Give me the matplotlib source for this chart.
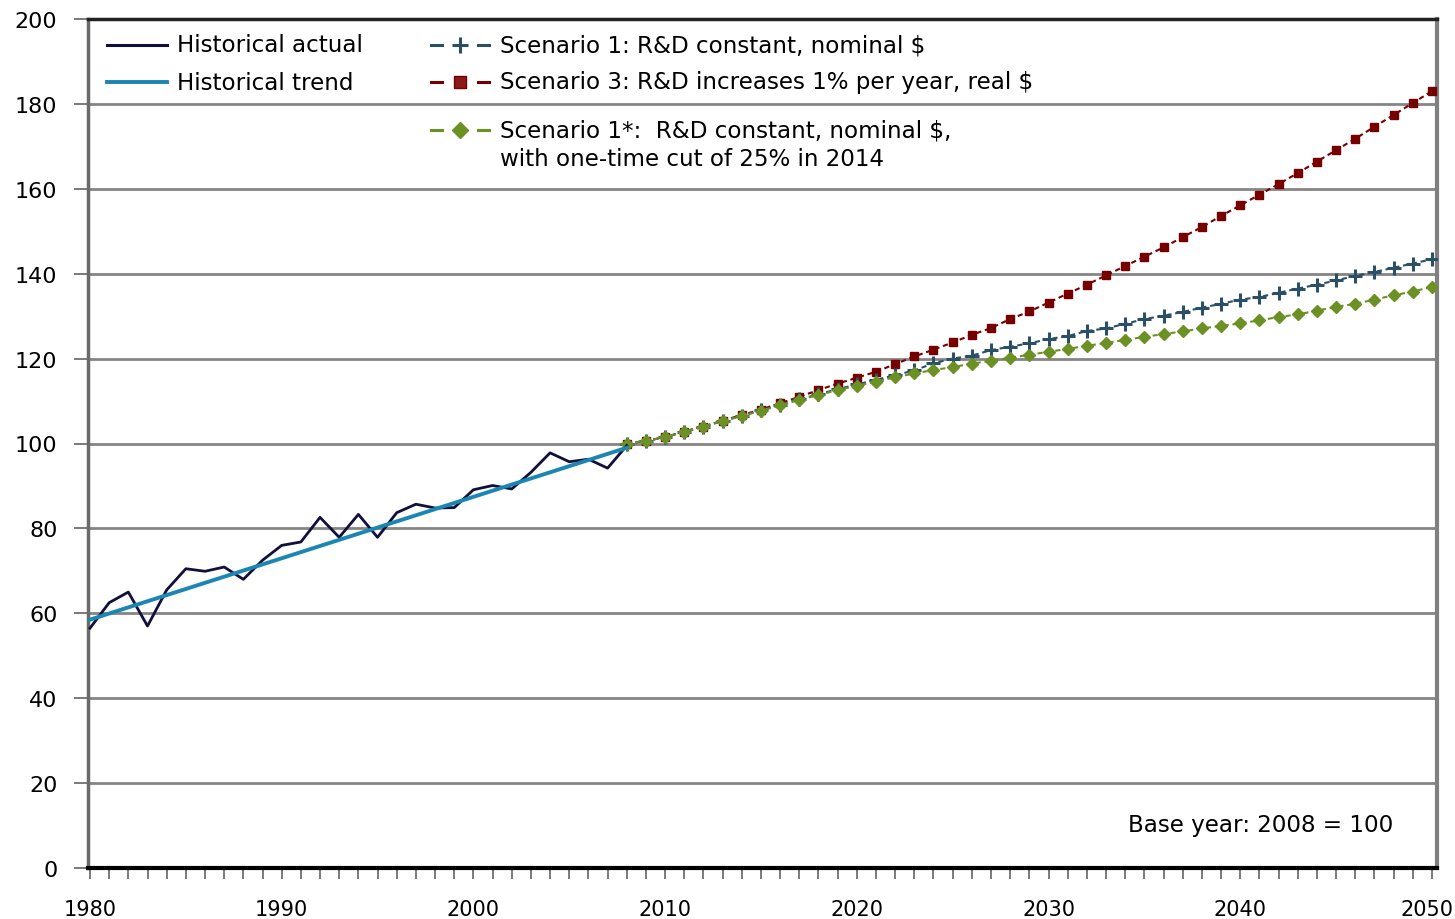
import matplotlib
matplotlib.use('Agg')
import matplotlib.pyplot as plt
from matplotlib.lines import Line2D
from matplotlib.ticker import MultipleLocator
from matplotlib.transforms import ScaledTranslation

# ---------------- data ----------------
hist_years = list(range(1980, 2009))
hist_actual = [56.5, 62.5, 65.0, 57.0, 65.5, 70.5, 69.9, 70.9, 68.0, 72.5,
               76.0, 76.8, 82.6, 77.9, 83.3, 77.9, 83.7, 85.7, 84.8, 84.9,
               89.1, 90.1, 89.3, 93.2, 97.8, 95.7, 96.3, 94.2, 99.5]

trend_years = [1980, 2008]
trend_values = [58.5, 99.0]

proj_years = list(range(2008, 2051))
scenario1 = [100.0, 100.6, 101.5, 102.8, 104.0, 105.3, 106.5, 107.8, 109.1, 110.4,
             111.6, 112.8, 113.9, 115.0, 116.1, 117.2, 118.9, 120.0, 120.7, 122.0,
             122.8, 123.6, 124.6, 125.3, 126.5, 127.1, 128.2, 129.3, 130.1, 131.0,
             132.0, 132.9, 133.9, 134.5, 135.5, 136.5, 137.4, 138.4, 139.5, 140.4,
             141.4, 142.4, 143.4]
scenario3 = [100.0, 100.6, 101.5, 102.8, 104.0, 105.4, 106.7, 108.0, 109.5, 111.0,
             112.6, 114.1, 115.5, 116.9, 118.7, 120.5, 122.1, 123.8, 125.6, 127.2,
             129.3, 131.1, 133.2, 135.3, 137.4, 139.6, 141.8, 144.0, 146.2, 148.6,
             151.0, 153.6, 156.1, 158.6, 161.1, 163.7, 166.4, 169.1, 171.8, 174.6,
             177.4, 180.2, 183.0]
scenario1_star = [100.0, 100.6, 101.5, 102.8, 104.0, 105.3, 106.5, 107.7, 109.0, 110.3,
                  111.4, 112.6, 113.6, 114.6, 115.6, 116.5, 117.3, 118.0, 118.8, 119.5,
                  120.2, 120.9, 121.6, 122.3, 123.0, 123.7, 124.4, 125.1, 125.8, 126.4,
                  127.1, 127.7, 128.3, 129.0, 129.8, 130.4, 131.3, 132.2, 132.9, 133.9,
                  134.9, 135.8, 136.9]

x_ticks = [1980, 1990, 2000, 2010, 2020, 2030, 2040, 2050]
x_tick_labels = ["1980", "1990", "2000", "2010", "2020", "2030", "2040", "2050"]

labels = ["Historical actual", "Historical trend",
          "Scenario 1: R&D constant, nominal $",
          "Scenario 3: R&D increases 1% per year, real $",
          "Scenario 1*:  R&D constant, nominal $,",
          "with one-time cut of 25% in 2014"]
note = "Base year: 2008 = 100"

# ---------------- style ----------------
C_ACT = '#10103a'
C_TREND = '#1b86b2'
C_S1 = '#2b4f66'
C_S3 = '#760000'
C_S1S = '#6b9124'
GRID = '#858585'

W, H = 1455, 920
plt.rcParams['font.family'] = ['DejaVu Sans']
fig = plt.figure(figsize=(W / 100, H / 100), dpi=100)
ax = fig.add_axes([88 / W, 1 - 869 / H, (1437 - 88) / W, (869 - 20) / H])

ax.set_xlim(1980 - 2 / 19.17, 1980 + (1437 - 90) / 19.17)
ax.set_ylim(0, 200)

ax.yaxis.set_major_locator(MultipleLocator(20))
ax.set_xticks(x_ticks, x_tick_labels)
ax.xaxis.set_minor_locator(MultipleLocator(1))
for y in range(20, 200, 20):
    ax.axhline(y, color=GRID, lw=2.0, zorder=0)

ax.tick_params(axis='y', direction='out', length=10, width=1.3, color='#707070',
               pad=12, labelsize=16)
ax.tick_params(axis='x', which='major', direction='out', length=8, width=1.3,
               color='#707070', pad=14, labelsize=15)
ax.tick_params(axis='x', which='minor', direction='out', length=8, width=1.3,
               color='#707070')
for s, c, lw in [('top', '#222222', 2.5), ('bottom', '#000000', 3.0),
                 ('left', '#6a6a6a', 2.5), ('right', '#808080', 3.0)]:
    ax.spines[s].set_color(c)
    ax.spines[s].set_linewidth(lw)

dash = (0, (2.5, 1.8))
ax.plot(proj_years, scenario3, color=C_S3, lw=1.5, ls=dash, marker='s',
        ms=6.0, mfc=C_S3, mec=C_S3, zorder=3)
ax.plot(proj_years, scenario1, color=C_S1, lw=1.5, ls=dash, marker='+',
        ms=10, mew=2.2, mec=C_S1, zorder=4)
ax.plot(proj_years, scenario1_star, color=C_S1S, lw=1.5, ls=dash, marker='D',
        ms=6.0, mfc=C_S1S, mec=C_S1S, zorder=5)
ax.plot(hist_years, hist_actual, color=C_ACT, lw=2.0, zorder=6)
ax.plot(trend_years, trend_values, color=C_TREND, lw=2.8, zorder=7)

# nudge the last x tick label so it stays inside the figure
fig.canvas.draw()
for t in ax.get_xticklabels():
    if t.get_text() == "2050":
        t.set_transform(t.get_transform() +
                        ScaledTranslation(-5 / 100, 0, fig.dpi_scale_trans))


# ---------------- legend (manual) ----------------
def fx(x):
    return x / W


def fy(y):
    return 1 - y / H


def solid_key(y, color, lw):
    fig.add_artist(Line2D([fx(107), fx(167)], [fy(y), fy(y)], color=color, lw=lw,
                          transform=fig.transFigure))


def marker_key(y, color, marker, **mk):
    for x0, x1 in [(431, 442), (478, 489)]:
        fig.add_artist(Line2D([fx(x0), fx(x1)], [fy(y), fy(y)], color=color, lw=2.2,
                              transform=fig.transFigure))
    fig.add_artist(Line2D([fx(460)], [fy(y)], color=color, marker=marker, ls='none',
                          transform=fig.transFigure, **mk))


TXT = dict(fontsize=16.6, va='center', ha='left')
solid_key(46, C_ACT, 2.2)
fig.text(fx(177), fy(46), labels[0], **TXT)
solid_key(83, C_TREND, 2.8)
fig.text(fx(177), fy(83), labels[1], **TXT)

marker_key(46, C_S1, '+', ms=11, mew=2.2)
fig.text(fx(500), fy(46), labels[2], **TXT)
marker_key(83, C_S3, 's', ms=9, mfc='#8b1a1a', mec=C_S3)
fig.text(fx(500), fy(83), labels[3], **TXT)
marker_key(131, C_S1S, 'D', ms=8, mfc=C_S1S, mec=C_S1S)
fig.text(fx(500), fy(131), labels[4], **TXT)
fig.text(fx(500), fy(160), labels[5], **TXT)

fig.text(fx(1128), fy(826), note, **TXT)

fig.savefig('out.png', dpi=100)
